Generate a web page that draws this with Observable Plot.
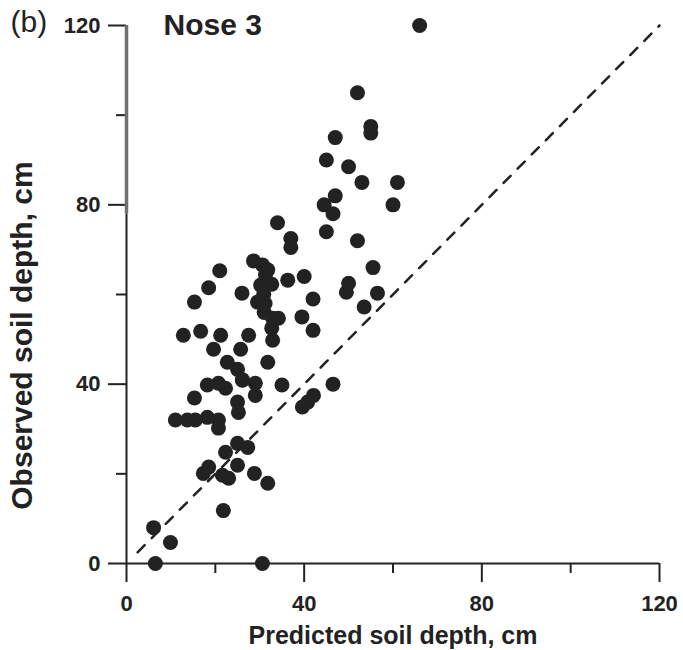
<!DOCTYPE html>
<html><head><meta charset="utf-8">
<script src="https://cdn.jsdelivr.net/npm/d3@7"></script>
<script src="https://cdn.jsdelivr.net/npm/@observablehq/plot@0.6"></script>
<style>
body{margin:0;background:#fff}
svg{font-family:"Liberation Sans",Arial,sans-serif}
</style>
</head><body><div id="chart"></div>
<script>
const predicted = [66, 52, 55, 55, 47, 45, 50, 53, 61, 47, 44.5, 60, 46.5, 45, 52, 34, 37, 37, 55.5, 40, 56.5, 50, 49.5, 42, 53.5, 39.5, 42, 46.5,
  28.6, 30.6, 31.8, 21, 18.5, 15.3, 26, 36.3, 30.2, 32.7, 31.3, 30.9, 29.5, 31.2, 31, 32.9, 34.2, 32.7, 32.9, 12.8, 16.7, 21.2, 19.6, 27.5, 25.7, 22.7, 25, 26.1, 31.8,
  18.2, 20.7, 22.3, 26.1, 29, 29, 35, 15.3, 25, 25.2, 11, 13.7, 15.5, 18.2, 20.7, 20.7, 42.1, 40.8, 39.6, 25, 27.3, 22.3, 18.5, 17.3, 21.6, 23, 25, 28.8, 31.8, 21.8, 6.1, 9.9, 6.5, 30.6];
const observed = [120, 105, 97.5, 96, 95, 90, 88.5, 85, 85, 82, 80, 80, 78, 74, 72, 76, 72.5, 70.5, 66, 64, 60.3, 62.5, 60.5, 59, 57.2, 55, 52, 40,
  67.5, 66.6, 65.5, 65.3, 61.5, 58.3, 60.3, 63.2, 62.1, 62.3, 64.4, 60, 58.3, 58, 56, 54.7, 54.7, 52.5, 49.8, 50.9, 51.8, 50.9, 47.8, 50.9, 47.8, 44.9, 43.3, 41, 44.9,
  39.8, 40.2, 39.1, 40.9, 40.2, 37.5, 39.8, 36.9, 36, 33.7, 32, 32, 32, 32.6, 32, 30.2, 37.5, 36, 34.9, 26.8, 25.9, 24.8, 21.5, 20.1, 19.7, 19, 21.9, 20.1, 17.9, 11.8, 8, 4.7, 0, 0];
const majorTicks = [0, 40, 80, 120];
const minorTicks = [20, 60, 100];
const oneToOneEnds = [2.5, 120];
const panelLabel = "(b)";
const title = "Nose 3";
const xLabel = "Predicted soil depth, cm";
const yLabel = "Observed soil depth, cm";

const points = predicted.map((p, i) => ({predicted: p, observed: observed[i]}));
const diag = oneToOneEnds.map(v => ({x: v, y: v}));
const ink = "#222";

const chart = Plot.plot({
  width: 683, height: 650,
  marginLeft: 126, marginRight: 24, marginTop: 25, marginBottom: 87,
  x: {domain: [0, 120]},
  y: {domain: [0, 120]},
  style: {background: "#fff", color: ink, fontFamily: "'Liberation Sans', Arial, sans-serif"},
  marks: [
    Plot.axisX({ticks: majorTicks, tickSize: 19, tickPadding: 13, fontSize: 22, fontWeight: "bold", label: null, strokeWidth: 2, stroke: ink}),
    Plot.axisX({ticks: minorTicks, tickSize: 10, text: null, label: null, strokeWidth: 2, stroke: ink}),
    Plot.axisY({ticks: majorTicks, tickSize: 18, tickPadding: 8, fontSize: 22, fontWeight: "bold", label: null, strokeWidth: 2, stroke: ink}),
    Plot.axisY({ticks: minorTicks, tickSize: 10, text: null, label: null, strokeWidth: 2, stroke: ink}),
    Plot.ruleY([0], {x1: 0, x2: 120, strokeWidth: 2, stroke: ink}),
    Plot.ruleX([0], {y1: 0, y2: 78, strokeWidth: 2, stroke: ink}),
    Plot.ruleX([0], {y1: 78, y2: 120, strokeWidth: 3.5, stroke: "#707070"}),
    Plot.line(diag, {x: "x", y: "y", stroke: ink, strokeWidth: 2.5, strokeDasharray: "10,10"}),
    Plot.dot(points, {x: "predicted", y: "observed", r: 7.5, fill: ink, stroke: null}),
    Plot.text([title], {frameAnchor: "top-left", dx: 37, dy: 0, textAnchor: "start", lineAnchor: "middle", fontSize: 30, fontWeight: "bold", fill: ink}),
    Plot.text([panelLabel], {frameAnchor: "top-left", dx: -116, dy: -3, textAnchor: "start", lineAnchor: "middle", fontSize: 30, fill: ink}),
    Plot.text([xLabel], {frameAnchor: "bottom", dy: 72, textAnchor: "middle", lineAnchor: "middle", fontSize: 25, fontWeight: "bold", fill: ink}),
    Plot.text([yLabel], {frameAnchor: "left", dx: -104, dy: 41, rotate: -90, textAnchor: "middle", lineAnchor: "middle", fontSize: 30, fontWeight: "bold", fill: ink})
  ]
});
document.getElementById("chart").appendChild(chart);
</script>
</body></html>
